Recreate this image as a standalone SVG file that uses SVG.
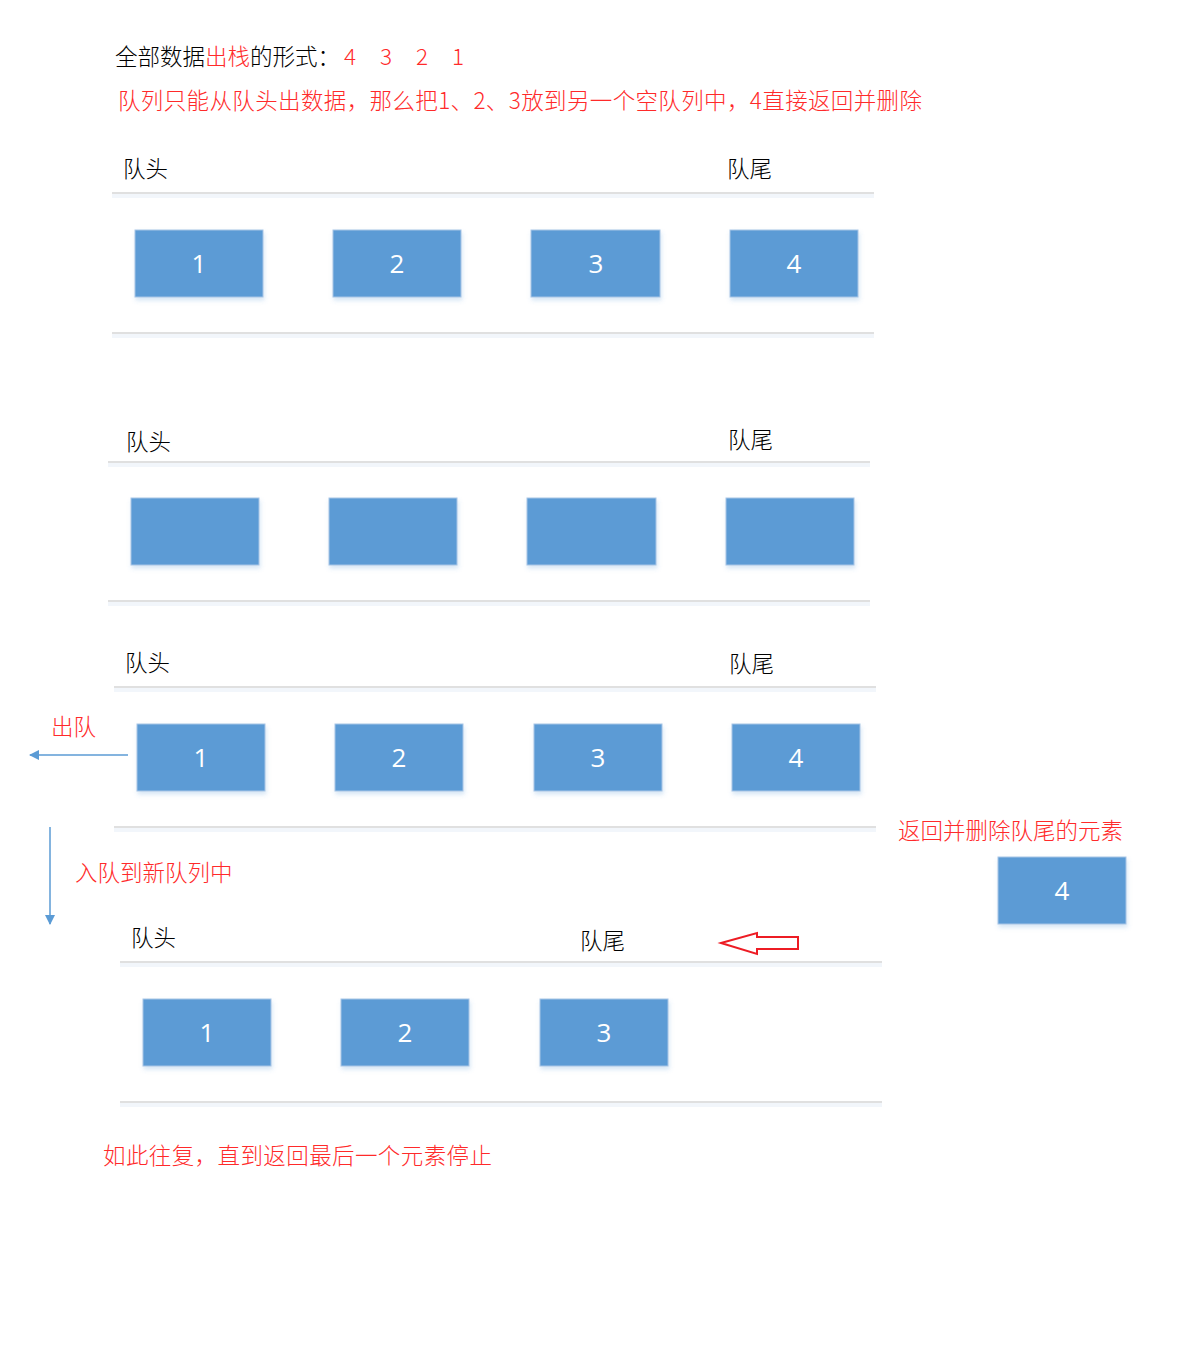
<svg xmlns="http://www.w3.org/2000/svg" width="1187" height="1354" viewBox="0 0 1187 1354">
<defs>
  <filter id="sh" x="-10%" y="-10%" width="130%" height="140%">
    <feDropShadow dx="1" dy="3" stdDeviation="2" flood-color="#5b9bd5" flood-opacity="0.25"/>
  </filter>
  <marker id="ah" viewBox="0 0 10 10" refX="9" refY="5" markerWidth="7" markerHeight="7" orient="auto">
    <path d="M0,0 L10,5 L0,10 z" fill="#5b9bd5"/>
  </marker>
</defs>
<style>
  .t{font-family:"Noto Sans CJK SC","Noto Sans",sans-serif;font-size:22.5px;fill:#000;font-weight:300}
  .r{fill:#ff2a2a}
  .b{fill:#5b9bd5;stroke:#a8c5e6;stroke-width:1;filter:url(#sh)}
  .n{font-family:"Open Sans","Liberation Sans",sans-serif;font-size:26px;fill:#fff;text-anchor:middle}
  .ln{stroke:#d6d6d6;stroke-width:1.5}
  .lns{stroke:#f2f6fb;stroke-width:4}
  .c{stroke:#5b9bd5;stroke-width:1.5;fill:none}
</style>
<rect width="1187" height="1354" fill="#fff"/>

<g id="texts">
  <text class="t" x="115" y="65">全部数据<tspan class="r">出栈</tspan>的形式：</text>
  <text class="t r" x="344" y="65">4</text>
  <text class="t r" x="380" y="65">3</text>
  <text class="t r" x="416" y="65">2</text>
  <text class="t r" x="452" y="65">1</text>
  <text class="t r" x="118" y="109" textLength="804">队列只能从队头出数据，那么把1、2、3放到另一个空队列中，4直接返回并删除</text>
  <text class="t r" x="103" y="1164" textLength="389">如此往复，直到返回最后一个元素停止</text>
</g>

<g id="queue1">
  <text class="t" x="123" y="177">队头</text>
  <text class="t" x="727" y="177">队尾</text>
  <line class="lns" x1="112" y1="196" x2="874" y2="196"/>
  <line class="ln" x1="112" y1="193" x2="874" y2="193"/>
  <line class="lns" x1="112" y1="336" x2="874" y2="336"/>
  <line class="ln" x1="112" y1="333" x2="874" y2="333"/>
  <g id="q1n1"><rect class="b" x="135" y="230" width="128" height="67"/><text class="n" x="199" y="273">1</text></g>
  <g id="q1n2"><rect class="b" x="333" y="230" width="128" height="67"/><text class="n" x="397" y="273">2</text></g>
  <g id="q1n3"><rect class="b" x="531" y="230" width="129" height="67"/><text class="n" x="596" y="273">3</text></g>
  <g id="q1n4"><rect class="b" x="730" y="230" width="128" height="67"/><text class="n" x="794" y="273">4</text></g>
</g>

<g id="queue2">
  <text class="t" x="126" y="450">队头</text>
  <text class="t" x="728" y="448">队尾</text>
  <line class="lns" x1="108" y1="465" x2="870" y2="465"/>
  <line class="ln" x1="108" y1="462" x2="870" y2="462"/>
  <line class="lns" x1="108" y1="604" x2="870" y2="604"/>
  <line class="ln" x1="108" y1="601" x2="870" y2="601"/>
  <g id="q2n1"><rect class="b" x="131" y="498" width="128" height="67"/></g>
  <g id="q2n2"><rect class="b" x="329" y="498" width="128" height="67"/></g>
  <g id="q2n3"><rect class="b" x="527" y="498" width="129" height="67"/></g>
  <g id="q2n4"><rect class="b" x="726" y="498" width="128" height="67"/></g>
</g>

<g id="queue3">
  <text class="t" x="125" y="671">队头</text>
  <text class="t" x="729" y="672">队尾</text>
  <line class="lns" x1="114" y1="690" x2="876" y2="690"/>
  <line class="ln" x1="114" y1="687" x2="876" y2="687"/>
  <line class="lns" x1="114" y1="830" x2="876" y2="830"/>
  <line class="ln" x1="114" y1="827" x2="876" y2="827"/>
  <g id="q3n1"><rect class="b" x="137" y="724" width="128" height="67"/><text class="n" x="201" y="767">1</text></g>
  <g id="q3n2"><rect class="b" x="335" y="724" width="128" height="67"/><text class="n" x="399" y="767">2</text></g>
  <g id="q3n3"><rect class="b" x="534" y="724" width="128" height="67"/><text class="n" x="598" y="767">3</text></g>
  <g id="q3n4"><rect class="b" x="732" y="724" width="128" height="67"/><text class="n" x="796" y="767">4</text></g>
</g>

<g id="labels">
  <text class="t r" x="51" y="735">出队</text>
  <text class="t r" x="75" y="881">入队到新队列中</text>
  <text class="t r" x="898" y="839">返回并删除队尾的元素</text>
</g>

<g id="removed">
  <rect class="b" x="998" y="857" width="128" height="67"/><text class="n" x="1062" y="900">4</text>
</g>

<g id="queue4">
  <text class="t" x="131" y="946">队头</text>
  <text class="t" x="580" y="949">队尾</text>
  <line class="lns" x1="120" y1="965" x2="882" y2="965"/>
  <line class="ln" x1="120" y1="962" x2="882" y2="962"/>
  <line class="lns" x1="120" y1="1105" x2="882" y2="1105"/>
  <line class="ln" x1="120" y1="1102" x2="882" y2="1102"/>
  <g id="q4n1"><rect class="b" x="143" y="999" width="128" height="67"/><text class="n" x="207" y="1042">1</text></g>
  <g id="q4n2"><rect class="b" x="341" y="999" width="128" height="67"/><text class="n" x="405" y="1042">2</text></g>
  <g id="q4n3"><rect class="b" x="540" y="999" width="128" height="67"/><text class="n" x="604" y="1042">3</text></g>
</g>

<g id="connectors">
  <line class="c" x1="128" y1="755" x2="30" y2="755" marker-end="url(#ah)"/>
  <line class="c" x1="50" y1="827" x2="50" y2="924" marker-end="url(#ah)"/>
  <path d="M721,943 L757,933 L757,937 L798,937 L798,949 L757,949 L757,954 Z" fill="none" stroke="#ed1c24" stroke-width="2"/>
</g>
</svg>
